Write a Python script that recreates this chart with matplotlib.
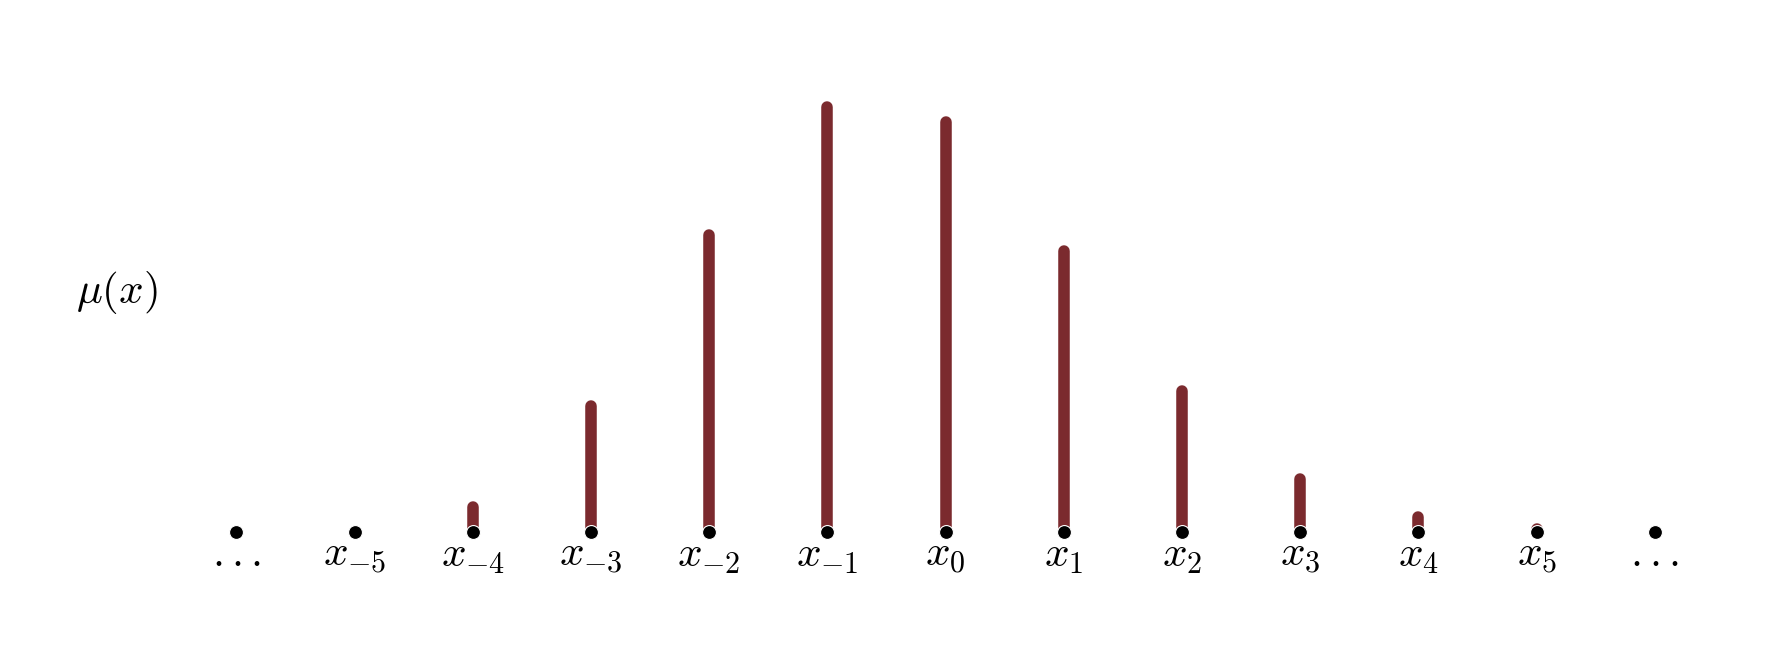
import matplotlib
matplotlib.use("Agg")
import matplotlib.pyplot as plt
import matplotlib.patheffects as pe

plt.rcParams['mathtext.fontset'] = 'cm'

# Data
positions = [-6, -5, -4, -3, -2, -1, 0, 1, 2, 3, 4, 5, 6]
labels = [r'$...$', r'$x_{-5}$', r'$x_{-4}$', r'$x_{-3}$', r'$x_{-2}$', r'$x_{-1}$',
          r'$x_{0}$', r'$x_{1}$', r'$x_{2}$', r'$x_{3}$', r'$x_{4}$', r'$x_{5}$', r'$...$']
bar_positions = [-4, -3, -2, -1, 0, 1, 2, 3, 4, 5]
mu_values = [0.0136, 0.070, 0.165, 0.236, 0.2275, 0.156, 0.078, 0.029, 0.008, 0.0017]

bar_color = '#7b2a2e'

fig = plt.figure(figsize=(17.73, 6.51), dpi=100)
ax = fig.add_axes([0, 0, 1, 1])
ax.set_xlim(-8, 7)
ax.set_ylim(-0.0663, 0.2954)
ax.axis('off')

for xp, v in zip(bar_positions, mu_values):
    ax.plot([xp, xp], [0, v], color=bar_color, lw=8.3, solid_capstyle='round', zorder=2,
            path_effects=[pe.Stroke(linewidth=9.3, foreground='white'), pe.Normal()])

ax.plot(positions, [0] * len(positions), 'o', color='black', markersize=10,
        markeredgecolor='white', markeredgewidth=0.8, zorder=3, linestyle='none')

for xp, lab in zip(positions, labels):
    ax.annotate(lab, xy=(xp, 0), xytext=(0, -25), textcoords='offset points',
                ha='center', va='baseline', fontsize=31)

fig.text(116.7 / 1773, 1 - 292 / 651, r'$\mu(x)$', ha='center', va='center', fontsize=31)

fig.savefig('out.png', dpi=100)
